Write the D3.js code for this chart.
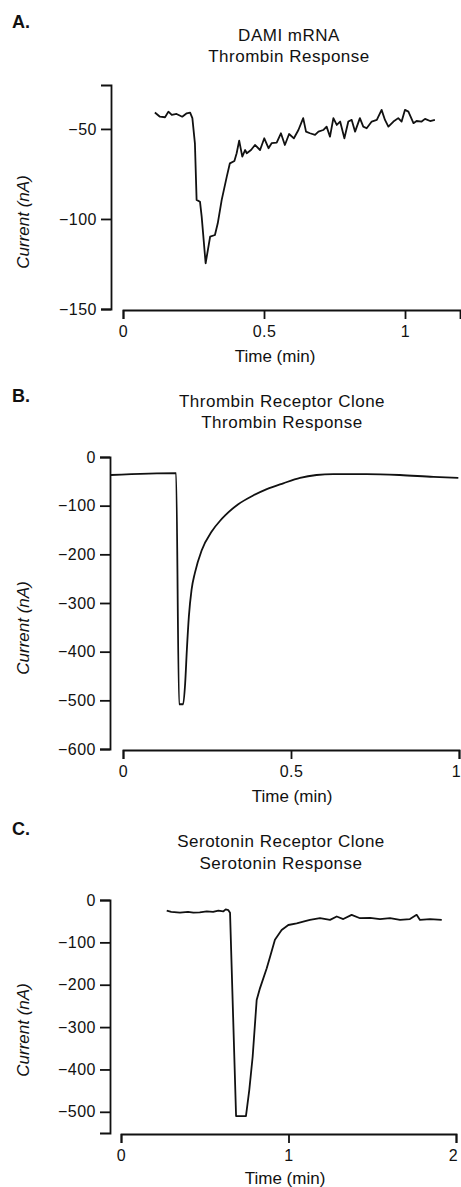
<!DOCTYPE html>
<html>
<head>
<meta charset="utf-8">
<script src="https://cdn.jsdelivr.net/npm/d3@7/dist/d3.min.js"></script>
<style>
  body { margin: 0; background: #fff; }
  svg text { font-family: "Liberation Sans", Arial, Helvetica, sans-serif; fill: #111; }
</style>
</head>
<body>
<script>
// A. DAMI mRNA - thrombin response (time in min, current in nA)
var aTime = [0.113, 0.131, 0.149, 0.161, 0.173, 0.190, 0.210, 0.226, 0.238, 0.246,
             0.255, 0.261, 0.273, 0.279, 0.293, 0.309, 0.326, 0.336, 0.350, 0.368,
             0.379, 0.395, 0.403, 0.412, 0.423, 0.433, 0.439, 0.454, 0.468, 0.486,
             0.501, 0.516, 0.527, 0.545, 0.560, 0.574, 0.589,
             0.606, 0.622, 0.639, 0.649, 0.663, 0.681, 0.693, 0.710, 0.722, 0.734,
             0.746, 0.758, 0.770, 0.785, 0.799, 0.811, 0.823, 0.840, 0.852, 0.864,
             0.882, 0.900, 0.917, 0.929, 0.941, 0.959, 0.976, 0.988, 1.000, 1.012,
             1.030, 1.041, 1.059, 1.071, 1.089, 1.106]
var aCurrent = [-40.9, -43.2, -43.5, -40.4, -42.2, -41.7, -43.2, -41.3, -40.9, -44,
                -58, -89.4, -90.4, -98.7, -124.6, -109.8, -108.9, -102.4, -89.4, -76.5,
                -69.1, -67.8, -63.5, -56.5, -65.4, -61.7, -63.5, -61.7, -58.9, -61.7,
                -55.2, -60.7, -57.9, -57.6, -52.4, -58.9, -52.8,
                -55.2, -50.6, -44, -51.5, -52.4, -53.3, -51.5, -50.6, -48.7, -54.3,
                -44, -47.8, -45.9, -55.2, -45.9, -45, -51.5, -44, -48.7, -49.6,
                -45.9, -45, -39.4, -45, -48.7, -45.9, -44, -45.9, -39.4, -40.4,
                -46.8, -45.6, -45.9, -44.4, -45.6, -45]
var aXTicks = [0, 0.5, 1]
var aYTicks = [-50, -100, -150]

// B. thrombin receptor clone - thrombin response
var bTime = [-0.036, 0.158, 0.167, 0.179, 0.185, 0.190, 0.196, 0.204, 0.214, 0.234,
             0.264, 0.289, 0.304, 0.343, 0.385, 0.428, 0.477, 0.527, 0.576, 0.626,
             0.725, 0.824, 0.924, 0.998]
var bCurrent = [-37, -33, -508, -508, -465, -397, -328, -273, -238, -192,
                -153, -131, -120, -97, -80, -66, -54, -43, -37, -35,
                -35, -37, -41, -43]
var bXTicks = [0, 0.5, 1]
var bYTicks = [0, -100, -200, -300, -400, -500, -600]

// C. serotonin receptor clone - serotonin response
var cTime = [0.273, 0.300, 0.352, 0.400, 0.432, 0.470, 0.512, 0.550, 0.581, 0.610,
             0.625, 0.641, 0.651, 0.687, 0.746, 0.766, 0.786, 0.810, 0.830, 0.870,
             0.890, 0.919, 0.959, 0.999, 1.049, 1.088, 1.128, 1.188, 1.248, 1.288,
             1.327, 1.377, 1.427, 1.487, 1.546, 1.606, 1.666, 1.725, 1.765, 1.785,
             1.845, 1.915]
var cCurrent = [-25, -28, -30, -28, -30, -29, -27, -28, -25, -27,
                -22, -24, -30, -510, -510, -448, -370, -236, -208, -161,
                -134, -94, -71, -59, -55, -51, -47, -43, -47, -39,
                -45, -35, -43, -42, -45, -43, -47, -45, -35, -47,
                -45, -47]
var cXTicks = [0, 1, 2]
var cYTicks = [0, -100, -200, -300, -400, -500]

var width = 461
var height = 1187

var panels = [
  {letter: "A.", title: ["DAMI mRNA", "Thrombin Response"], time: aTime, current: aCurrent,
   xTicks: aXTicks, yTicks: aYTicks, xDomain: [0, 1.195], yDomain: [-150, -25.6],
   xRange: [123, 460], yRange: [309, 85], yAxisX: 111, xAxisY: 310, curve: d3.curveLinear,
   letterY: 28, titleX: 289, titleY: [41, 62], yLabelY: 222, xLabelX: 275, xLabelY: 362},
  {letter: "B.", title: ["Thrombin Receptor Clone", "Thrombin Response"], time: bTime, current: bCurrent,
   xTicks: bXTicks, yTicks: bYTicks, xDomain: [0, 1], yDomain: [-600, 0],
   xRange: [123, 459], yRange: [749, 457], yAxisX: 110, xAxisY: 750, curve: d3.curveMonotoneX,
   letterY: 402, titleX: 282, titleY: [407, 428], yLabelY: 628, xLabelX: 292, xLabelY: 802},
  {letter: "C.", title: ["Serotonin Receptor Clone", "Serotonin Response"], time: cTime, current: cCurrent,
   xTicks: cXTicks, yTicks: cYTicks, xDomain: [0, 2], yDomain: [-550, 0],
   xRange: [121, 456], yRange: [1133, 900], yAxisX: 110, xAxisY: 1134, curve: d3.curveLinear,
   letterY: 835, titleX: 281, titleY: [847, 869], yLabelY: 1030, xLabelX: 285, xLabelY: 1184}
]

var svg = d3.select("body")
            .append("svg")
            .attr("width", width)
            .attr("height", height)

svg.append("rect")
   .attr("width", width)
   .attr("height", height)
   .attr("fill", "white")

const styleAxis = function(g){
  g.attr("font-family", null).attr("font-size", null)
  g.select(".domain").attr("stroke", "#111").attr("stroke-width", 1.8)
  g.selectAll(".tick line").attr("stroke", "#111").attr("stroke-width", 1.8)
  g.selectAll(".tick text")
   .style("font-size", "16px")
   .style("letter-spacing", "0.5px")
}

const drawPanel = function(p){
  var xScale = d3.scaleLinear().domain(p.xDomain).range(p.xRange)
  var yScale = d3.scaleLinear().domain(p.yDomain).range(p.yRange)

  // x axis starts at time 0, y axis sits a little to its left
  var xAxis = d3.axisBottom(xScale)
                .tickValues(p.xTicks)
                .tickSize(9)
                .tickPadding(7)
                .tickFormat(d3.format(""))
  var gx = svg.append("g")
              .attr("transform", "translate(0," + p.xAxisY + ")")
              .call(xAxis)
              .call(styleAxis)

  // keep a label that sits on the right edge inside the page
  gx.selectAll(".tick text")
    .attr("dx", function(d){ return xScale(d) > width - 6 ? -3 : 0 })

  var yAxis = d3.axisLeft(yScale)
                .tickValues(p.yTicks)
                .tickSize(10)
                .tickPadding(4)
  svg.append("g")
     .attr("transform", "translate(" + p.yAxisX + ",0)")
     .call(yAxis)
     .call(styleAxis)

  var line = d3.line()
               .curve(p.curve)
               .x(function(d){ return xScale(d[0]) })
               .y(function(d){ return yScale(d[1]) })

  svg.append("path")
     .datum(d3.zip(p.time, p.current))
     .attr("d", line)
     .attr("fill", "none")
     .attr("stroke", "#111")
     .attr("stroke-width", 1.8)
     .attr("stroke-linejoin", "round")

  // panel letter
  svg.append("text")
     .attr("x", 12)
     .attr("y", p.letterY)
     .style("font-size", "18px")
     .style("font-weight", "bold")
     .text(p.letter)

  // two-line title
  p.title.forEach(function(t, i){
    svg.append("text")
       .attr("x", p.titleX)
       .attr("y", p.titleY[i])
       .style("text-anchor", "middle")
       .style("font-size", "17px")
       .style("letter-spacing", "0.5px")
       .text(t)
  })

  svg.append("text")
     .attr("transform", "translate(29," + p.yLabelY + ") rotate(-90)")
     .style("text-anchor", "middle")
     .style("font-size", "17px")
     .style("font-style", "italic")
     .text("Current (nA)")

  svg.append("text")
     .attr("x", p.xLabelX)
     .attr("y", p.xLabelY)
     .style("text-anchor", "middle")
     .style("font-size", "17px")
     .text("Time (min)")
}

panels.forEach(drawPanel)
</script>
</body>
</html>
